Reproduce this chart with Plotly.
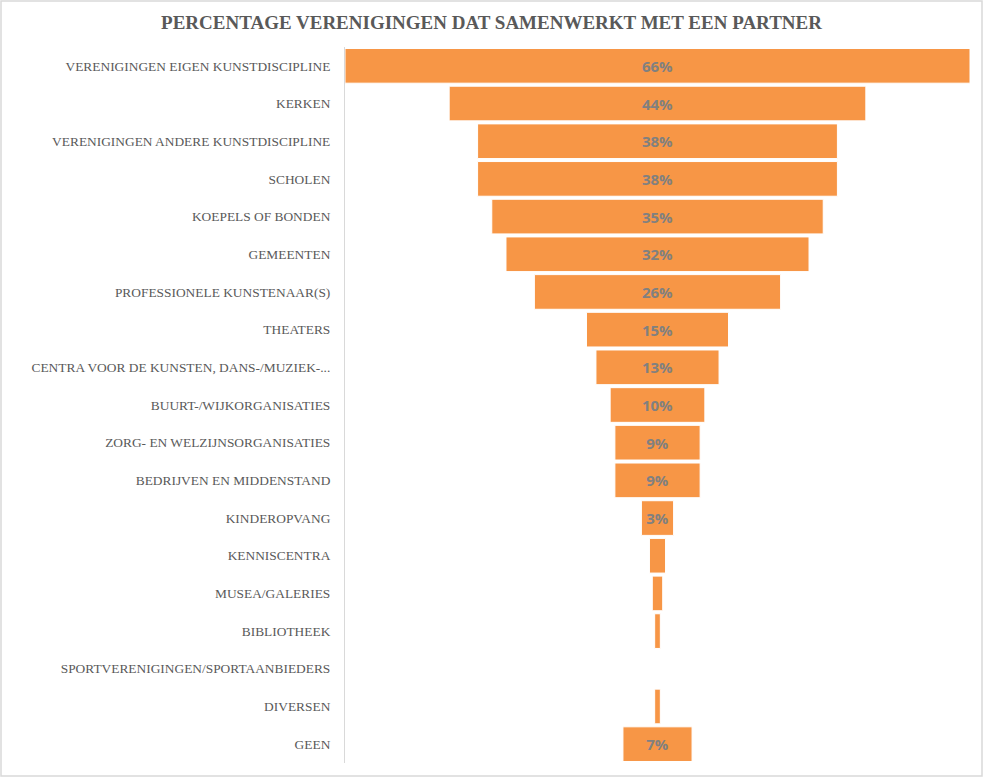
import plotly.graph_objects as go

categories = [
    "VERENIGINGEN EIGEN KUNSTDISCIPLINE",
    "KERKEN",
    "VERENIGINGEN ANDERE KUNSTDISCIPLINE",
    "SCHOLEN",
    "KOEPELS OF BONDEN",
    "GEMEENTEN",
    "PROFESSIONELE KUNSTENAAR(S)",
    "THEATERS",
    "CENTRA VOOR DE KUNSTEN, DANS-/MUZIEK-...",
    "BUURT-/WIJKORGANISATIES",
    "ZORG- EN WELZIJNSORGANISATIES",
    "BEDRIJVEN EN MIDDENSTAND",
    "KINDEROPVANG",
    "KENNISCENTRA",
    "MUSEA/GALERIES",
    "BIBLIOTHEEK",
    "SPORTVERENIGINGEN/SPORTAANBIEDERS",
    "DIVERSEN",
    "GEEN",
]
values = [66, 44, 38, 38, 35, 32, 26, 15, 13, 10, 9, 9, 3.4, 1.7, 1.1, 0.6, 0, 0.6, 7.3]
labels = ["66%", "44%", "38%", "38%", "35%", "32%", "26%", "15%", "13%", "10%",
          "9%", "9%", "3%", "", "", "", "", "", "7%"]

bases = [-v / 2 for v in values]

fig = go.Figure(go.Bar(
    y=categories,
    x=values,
    base=bases,
    orientation="h",
    marker=dict(color="#F79646", line=dict(color="white", width=1)),
    text=labels,
    textposition="inside",
    insidetextanchor="middle",
    textangle=0,
    constraintext="none",
    textfont=dict(family="Open Sans", size=15, color="#808080", weight="bold"),
    hoverinfo="skip",
))

W, H = 983, 777
ml, mr, mt, mb = 345, 13, 47, 14

fig.update_layout(
    width=W, height=H,
    margin=dict(l=ml, r=mr, t=mt, b=mb),
    paper_bgcolor="white",
    plot_bgcolor="white",
    bargap=0.08,
    showlegend=False,
    title=dict(
        text="<b>PERCENTAGE VERENIGINGEN DAT SAMENWERKT MET EEN PARTNER</b>",
        x=0.5, xanchor="center", y=1 - 22 / H, yanchor="middle",
        font=dict(family="Liberation Serif", size=19, color="#595959"),
    ),
    xaxis=dict(range=[-33, 33], visible=False, fixedrange=True),
    yaxis=dict(
        autorange="reversed",
        showline=True, linecolor="#d9d9d9", linewidth=1,
        showgrid=False, ticks="",
        ticklabelstandoff=11,
        tickfont=dict(family="Liberation Serif", size=13.4, color="#595959"),
    ),
)

pw = W - ml - mr
ph = H - mt - mb
fig.add_shape(
    type="rect", xref="paper", yref="paper",
    x0=-(ml - 1) / pw, x1=1 + (mr - 1) / pw,
    y0=-(mb - 1) / ph, y1=1 + (mt - 1) / ph,
    line=dict(color="#d9d9d9", width=1.5), fillcolor="rgba(0,0,0,0)", layer="below",
)

fig.write_html("out.html")
